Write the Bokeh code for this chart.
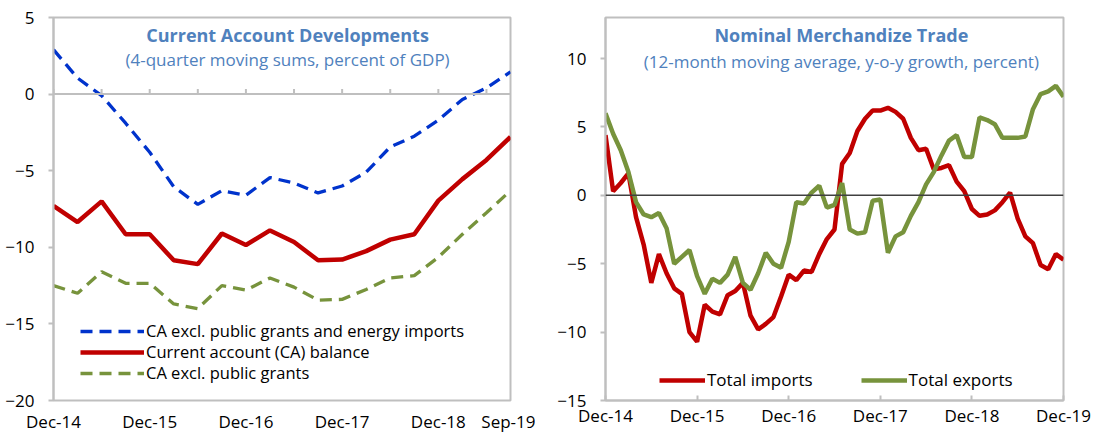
from bokeh.plotting import figure
from bokeh.models import Range1d, FixedTicker, Span, Legend, LegendItem, Label
from bokeh.layouts import row
from bokeh.embed import file_html
from bokeh.resources import INLINE

# ---------------- data: left panel (quarterly) ----------------
quarters = ["Dec-14", "Mar-15", "Jun-15", "Sep-15", "Dec-15", "Mar-16", "Jun-16", "Sep-16",
            "Dec-16", "Mar-17", "Jun-17", "Sep-17", "Dec-17", "Mar-18", "Jun-18", "Sep-18",
            "Dec-18", "Mar-19", "Jun-19", "Sep-19"]
ca_excl_grants_energy = [2.9, 1.05, -0.1, -1.9, -3.8, -6.05, -7.2, -6.3, -6.6, -5.45,
                         -5.8, -6.45, -6.0, -5.1, -3.45, -2.75, -1.7, -0.35, 0.4, 1.45]
ca_balance = [-7.3, -8.35, -7.0, -9.15, -9.15, -10.85, -11.1, -9.1, -9.85, -8.9,
              -9.65, -10.85, -10.8, -10.25, -9.5, -9.15, -6.95, -5.55, -4.3, -2.8]
ca_excl_grants = [-12.5, -13.0, -11.6, -12.35, -12.35, -13.7, -14.0, -12.5, -12.8, -12.0,
                  -12.6, -13.45, -13.4, -12.75, -12.0, -11.85, -10.65, -9.15, -7.75, -6.3]
left_tick_labels = ["Dec-14", "Dec-15", "Dec-16", "Dec-17", "Dec-18", "Sep-19"]
left_y_ticks = [-20, -15, -10, -5, 0, 5]

# ---------------- data: right panel (monthly) ----------------
month_names = ["Jan", "Feb", "Mar", "Apr", "May", "Jun", "Jul", "Aug", "Sep", "Oct", "Nov", "Dec"]
months = ["Dec-14"] + [f"{m}-{y}" for y in range(15, 20) for m in month_names]
total_imports = [4.4, 0.3, 0.9, 1.6, -1.6, -3.6, -6.4, -4.3, -5.7, -6.8,
                 -7.2, -10.0, -10.7, -8.0, -8.5, -8.7, -7.3, -7.0, -6.4, -8.8,
                 -9.8, -9.4, -8.9, -7.4, -5.8, -6.2, -5.5, -5.6, -4.3, -3.2,
                 -2.5, 2.3, 3.1, 4.7, 5.6, 6.2, 6.2, 6.4, 6.1, 5.6,
                 4.2, 3.3, 3.4, 1.9, 2.0, 2.2, 1.0, 0.3, -1.0, -1.5,
                 -1.4, -1.1, -0.5, 0.2, -1.7, -3.0, -3.5, -5.1, -5.4, -4.3,
                 -4.7]
total_exports = [6.0, 4.5, 3.3, 1.7, -0.5, -1.4, -1.6, -1.3, -2.4, -5.0,
                 -4.5, -4.0, -5.9, -7.2, -6.1, -6.4, -5.8, -4.5, -6.4, -6.9,
                 -5.7, -4.2, -5.0, -5.3, -3.4, -0.5, -0.6, 0.2, 0.7, -0.9,
                 -0.7, 0.9, -2.5, -2.8, -2.7, -0.4, -0.3, -4.2, -3.0, -2.7,
                 -1.5, -0.5, 0.8, 1.7, 2.9, 4.0, 4.4, 2.8, 2.8, 5.7,
                 5.5, 5.2, 4.2, 4.2, 4.2, 4.3, 6.3, 7.4, 7.6, 8.0,
                 7.2]
right_tick_labels = ["Dec-14", "Dec-15", "Dec-16", "Dec-17", "Dec-18", "Dec-19"]
right_y_ticks = [-15, -10, -5, 0, 5, 10]

# ---------------- styles ----------------
FONT = "Open Sans"
GRAY = "#BFBFBF"
RED = "#C00000"
BLUE = "#0033CC"
GREEN = "#77933C"
TITLE_BLUE = "#4F81BD"
TXT = "#000000"
FS = "17px"


def style_common(p):
    p.grid.visible = False
    p.outline_line_color = GRAY
    p.outline_line_width = 2
    p.background_fill_color = "white"
    p.border_fill_color = "white"


def style_yaxis(ax, ticks):
    ax.ticker = FixedTicker(ticks=ticks)
    ax.major_tick_out = 5
    ax.major_tick_in = 0
    ax.minor_tick_line_color = None
    ax.axis_line_color = GRAY
    ax.axis_line_width = 2
    ax.major_tick_line_color = GRAY
    ax.major_tick_line_width = 2
    ax.major_label_standoff = 14
    ax.major_label_text_font = FONT
    ax.major_label_text_font_size = FS
    ax.major_label_text_color = TXT


def style_xlabels(ax, ticks, labels):
    ax.ticker = FixedTicker(ticks=ticks)
    ax.major_label_overrides = {t: lab for t, lab in zip(ticks, labels)}
    ax.minor_tick_line_color = None
    ax.major_label_standoff = 3
    ax.major_label_text_font = FONT
    ax.major_label_text_font_size = FS
    ax.major_label_text_color = TXT


def title_label(x, y, text, bold):
    return Label(x=x, y=y, text=text, text_align="center", text_baseline="middle",
                 text_font=FONT, text_font_size="18px" if bold else FS,
                 text_font_style="bold" if bold else "normal", text_color=TITLE_BLUE)


def legend_box(items, loc, orientation, glyph_width, font_size, spacing=0):
    return Legend(items=items, location=loc, orientation=orientation,
                  glyph_width=glyph_width, glyph_height=18, label_height=18,
                  label_standoff=2, spacing=spacing, padding=0, margin=0,
                  border_line_color=None, background_fill_alpha=0,
                  label_text_font=FONT, label_text_font_size=font_size, label_text_color=TXT)


# ---------------- left panel ----------------
xq = list(range(len(quarters)))
p1 = figure(width=535, height=435, x_range=Range1d(0, len(quarters) - 1), y_range=Range1d(-20, 5),
            output_backend="svg", toolbar_location=None,
            min_border_left=53, min_border_right=25, min_border_top=17, min_border_bottom=0)
style_common(p1)
style_yaxis(p1.yaxis[0], left_y_ticks)
left_ticks = [quarters.index(l) for l in left_tick_labels]
xa1 = p1.xaxis[0]
style_xlabels(xa1, left_ticks, left_tick_labels)
xa1.axis_line_color = None
xa1.major_tick_line_color = None

# horizontal axis line at zero with small upward tick marks every second quarter
p1.add_layout(Span(location=0, dimension="width", line_color=GRAY, line_width=2))
zero_ticks = xq[::2]
p1.segment(x0=zero_ticks, y0=[0] * len(zero_ticks), x1=zero_ticks, y1=[0.33] * len(zero_ticks),
           line_color=GRAY, line_width=2)

r_blue = p1.line(xq, ca_excl_grants_energy, line_color=BLUE, line_width=3.3, line_dash="12 7")
r_red = p1.line(xq, ca_balance, line_color=RED, line_width=4.5)
r_green = p1.line(xq, ca_excl_grants, line_color=GREEN, line_width=3.3, line_dash="12 7")

p1.add_layout(title_label(9.73, 3.85, "Current Account Developments", True))
p1.add_layout(title_label(9.73, 2.25, "(4-quarter moving sums, percent of GDP)", False))

LEG_FS = "16.5px"
p1.add_layout(legend_box([LegendItem(label="CA excl. public grants and energy imports", renderers=[r_blue])],
                         (27, 58), "vertical", 64, LEG_FS))
p1.add_layout(legend_box([LegendItem(label="Current account (CA) balance", renderers=[r_red])],
                         (27, 37), "vertical", 64, LEG_FS))
p1.add_layout(legend_box([LegendItem(label="CA excl. public grants", renderers=[r_green])],
                         (27, 16), "vertical", 64, LEG_FS))

# ---------------- right panel ----------------
xm = list(range(len(months)))
p2 = figure(width=559, height=435, x_range=Range1d(0, len(months) - 1), y_range=Range1d(-15, 13),
            output_backend="svg", toolbar_location=None,
            min_border_left=70, min_border_right=31, min_border_top=17, min_border_bottom=0)
style_common(p2)
style_yaxis(p2.yaxis[0], right_y_ticks)
right_ticks = [months.index(l) for l in right_tick_labels]
xa2 = p2.xaxis[0]
style_xlabels(xa2, right_ticks, right_tick_labels)
xa2.axis_line_color = GRAY
xa2.axis_line_width = 2
xa2.major_tick_in = 5
xa2.major_tick_out = 0
xa2.major_tick_line_color = GRAY
xa2.major_tick_line_width = 2

p2.add_layout(Span(location=0, dimension="width", line_color="#404040", line_width=1.5))

r_imp = p2.line(xm, total_imports, line_color=RED, line_width=4.5)
r_exp = p2.line(xm, total_exports, line_color=GREEN, line_width=4.5)

p2.add_layout(title_label(30.9, 11.7, "Nominal Merchandize Trade", True))
p2.add_layout(title_label(30.9, 9.8, "(12-month moving average, y-o-y growth, percent)", False))

p2.add_layout(legend_box([LegendItem(label="Total imports", renderers=[r_imp]),
                          LegendItem(label="Total exports", renderers=[r_exp])],
                         (54, 9), "horizontal", 46, FS, spacing=48))

layout = row(p1, p2)
open("out.html", "w").write(file_html(layout, INLINE, title="Current account and trade"))
